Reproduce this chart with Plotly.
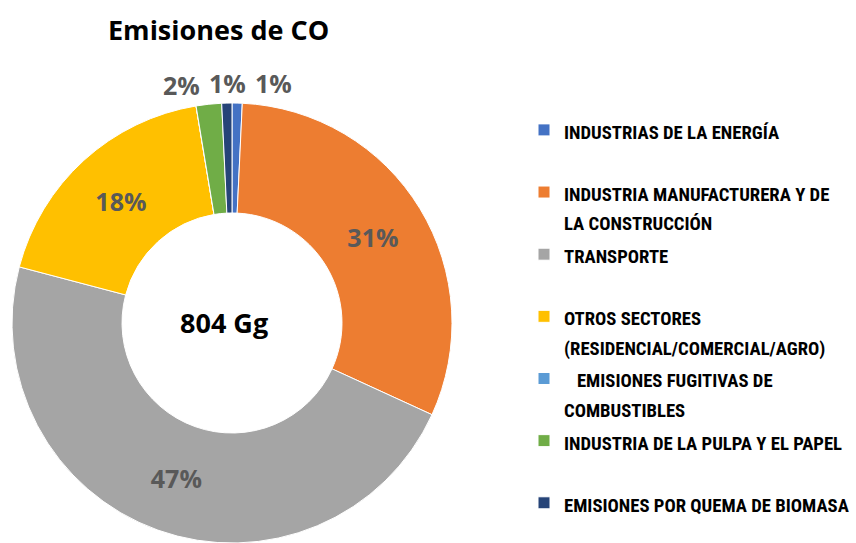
import math
import plotly.graph_objects as go

# Data (Gg CO)
categories = [
    "INDUSTRIAS DE LA ENERGÍA",
    "INDUSTRIA MANUFACTURERA Y DE<br>LA CONSTRUCCIÓN",
    "TRANSPORTE",
    "OTROS SECTORES<br>(RESIDENCIAL/COMERCIAL/AGRO)",
    "\u00a0\u00a0\u00a0EMISIONES FUGITIVAS DE<br>COMBUSTIBLES",
    "INDUSTRIA DE LA PULPA Y EL PAPEL",
    "EMISIONES POR QUEMA DE BIOMASA",
]
values = [6, 250, 380, 147, 0, 15, 6]
total_label = "804 Gg"
title_text = "Emisiones de CO"

colors = ["#4472C4", "#ED7D31", "#A5A5A5", "#FFC000", "#5B9BD5", "#70AD47", "#264478"]
# blank trailing lines reproduce the uneven legend spacing
legend_pad = [True, False, True, False, False, True, False]
inside = [False, True, True, True, False, False, False]

W, H = 856, 543
dom_x = [10 / W, 454 / W]
dom_y = [0, 440 / H]

def legend_label(name, pad):
    lines = name.split("<br>")
    s = "<br>".join(f'<span style="font-size:18.7px">{ln}</span>' for ln in lines)
    return s + ("<br> " if pad else "")

total = sum(values)
fig = go.Figure()
fig.add_trace(go.Pie(
    labels=[legend_label(c, p) for c, p in zip(categories, legend_pad)],
    values=values,
    hole=0.5,
    sort=False,
    direction="clockwise",
    rotation=0,
    marker=dict(colors=colors, line=dict(color="white", width=1)),
    texttemplate=["%{percent:.0%}" if i else "" for i in inside],
    textposition=["inside" if i else "none" for i in inside],
    textfont=dict(family="Open Sans", size=25, color="#595959", weight="bold"),
    insidetextorientation="horizontal",
    domain=dict(x=dom_x, y=dom_y),
    showlegend=True,
))

# outside labels for the small slices, placed from the slice mid-angles
cx = (dom_x[0] + dom_x[1]) / 2 * W
r = min((dom_x[1] - dom_x[0]) * W, (dom_y[1] - dom_y[0]) * H) / 2
cy = (dom_y[0] + dom_y[1]) / 2 * H  # from bottom
small = []
cum = 0
for i, v in enumerate(values):
    mid = (cum + v / 2) / total * 2 * math.pi
    cum += v
    if not inside[i] and v > 0:
        small.append([cx + 1.09 * r * math.sin(mid), cy + 1.09 * r * math.cos(mid), i])
small.sort(key=lambda s: s[0])
mean_x = sum(s[0] for s in small) / len(small) + 4
gap = 46
for k, s in enumerate(small):
    s[0] = mean_x + (k - (len(small) - 1) / 2) * gap

annotations = [
    dict(text=title_text, x=218 / W, y=1 - 30 / H, xref="paper", yref="paper",
         xanchor="center", yanchor="middle",
         showarrow=False, font=dict(family="Open Sans", size=27, color="black", weight="bold")),
    dict(text=total_label, x=(cx - 8) / W, y=cy / H, xref="paper", yref="paper",
         xanchor="center", yanchor="middle",
         showarrow=False, font=dict(family="Open Sans", size=27, color="black", weight="bold")),
]
for x, y, i in small:
    annotations.append(dict(text=f"{round(values[i] / total * 100)}%", x=x / W, y=y / H,
                            xref="paper", yref="paper", xanchor="center", yanchor="middle",
                            showarrow=False,
                            font=dict(family="Open Sans", size=25, color="#595959", weight="bold")))

fig.update_layout(
    width=W, height=H,
    margin=dict(l=0, r=0, t=0, b=0),
    paper_bgcolor="white",
    plot_bgcolor="white",
    legend=dict(
        x=524 / W, y=0.80, xanchor="left", yanchor="top",
        valign="top",
        font=dict(family="Roboto Condensed", size=22.75, color="black", weight="bold"),
        traceorder="normal",
    ),
    annotations=annotations,
)

fig.write_html("out.html", config={"displayModeBar": False},
               post_script="document.body.style.margin='0';")
